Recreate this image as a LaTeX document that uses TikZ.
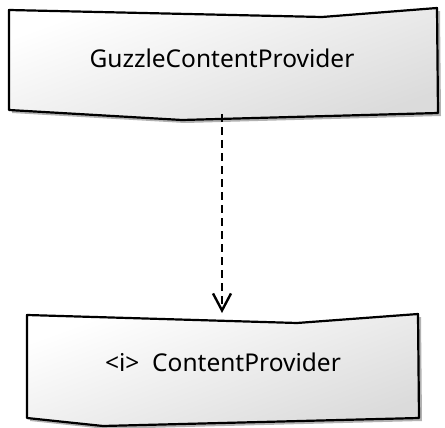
\documentclass[tikz,border=0pt]{standalone}
\usepackage{fontspec}
\setmainfont{Noto Sans}
\usetikzlibrary{arrows.meta,shadows}
\begin{document}
\begin{tikzpicture}[x=1pt,y=-1pt]
\tikzstyle{classbox}=[draw=black,line width=2.2pt,line join=round,
  top color=white,bottom color=black!14,shading angle=20,
  drop shadow={shadow xshift=3pt,shadow yshift=-3pt,opacity=0.3,fill=black}]
\tikzstyle{classname}=[inner sep=0pt,font=\fontsize{24.5}{28}\selectfont]
\tikzstyle{realize}=[line width=2.2pt,dash pattern=on 8pt off 5pt,
  -{Straight Barb[length=17pt,width=18pt,line width=2.4pt]}]
\useasboundingbox (0,0) rectangle (445,428);
% implementing class
\draw[classbox] (9,10) -- (322,17) -- (437,8) -- (438,113) -- (182,120) -- (9,110) -- cycle;
\node[classname] (guzzle) at (222,58) {GuzzleContentProvider};
\coordinate (guzzle-foot) at (222,114);
% interface
\draw[classbox] (27,315) -- (297,323) -- (418,314) -- (419,418) -- (103,426) -- (27,418) -- cycle;
\node[classname] (provider) at (223,362) {<i>\ \ ContentProvider};
\coordinate (provider-top) at (222,313);
% realization
\draw[realize] (guzzle-foot) -- (provider-top);
\end{tikzpicture}
\end{document}
